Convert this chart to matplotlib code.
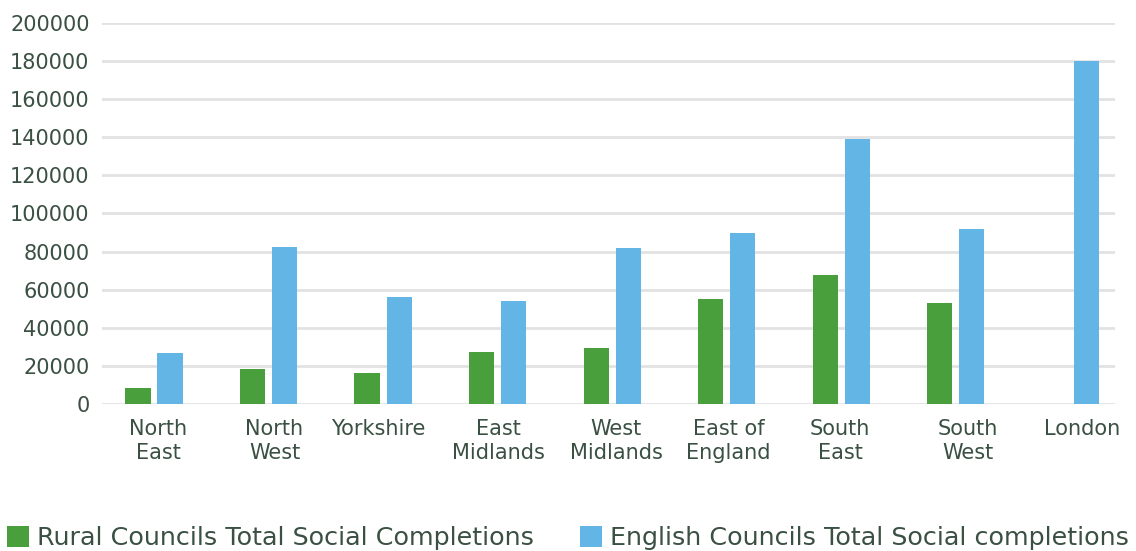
import matplotlib
matplotlib.use("Agg")
import matplotlib.pyplot as plt
import numpy as np

# Regions and values
regioes = ["North\nEast", "North\nWest", "Yorkshire", "East\nMidlands", "West\nMidlands",
           "East of\nEngland", "South\nEast", "South\nWest", "London"]
rural = [8500, 18300, 16200, 27200, 29300, 55000, 67500, 52900, 0]
ingles = [26700, 82200, 56000, 53900, 81700, 90000, 139300, 92100, 180100]
y_ticks = [0, 20000, 40000, 60000, 80000, 100000, 120000, 140000, 160000, 180000, 200000]

verde = "#4a9f3d"
azul = "#63b5e5"
texto = "#3a5042"

plt.rcParams["font.family"] = ["DejaVu Sans"]

fig = plt.figure(figsize=(11.36, 5.51), dpi=100)
ax = fig.add_axes([102 / 1136, 147 / 551, (1115 - 102) / 1136, (528 - 147) / 551])

x = np.arange(len(regioes))
largura = 0.22
ax.bar(x - 0.14, rural, largura, color=verde, label="Rural Councils Total Social Completions", zorder=3)
ax.bar(x + 0.14, ingles, largura, color=azul, label="English Councils Total Social completions", zorder=3)

ax.set_ylim(0, 200000)
ax.set_xlim(-0.454, 8.39)
ax.set_yticks(y_ticks)
ax.set_yticklabels([str(v) for v in y_ticks])

# rótulos um pouco deslocados, como no original (em pixels)
desvios = np.array([4, 6, -5, 1, 4, 2, -1, 12, 12]) / 114.5
ax.set_xticks(x + desvios)
ax.set_xticklabels(regioes, linespacing=1.25)

# Grade horizontal
ax.grid(axis="y", color="#e2e2e2", linewidth=2, zorder=0)
ax.grid(axis="x", visible=False)
for lado in ax.spines.values():
    lado.set_visible(False)

ax.tick_params(axis="both", length=0, labelsize=15, labelcolor=texto)
ax.tick_params(axis="y", pad=9)
ax.tick_params(axis="x", pad=11)

fig.legend(loc="lower left", bbox_to_anchor=(7 / 1136, 1 / 551), ncol=2, frameon=False,
           fontsize=18.3, handlelength=0.88, handleheight=0.88, handletextpad=0.3,
           columnspacing=1.8, borderpad=0, borderaxespad=0, labelcolor=texto)

fig.savefig("out.png", dpi=100)
